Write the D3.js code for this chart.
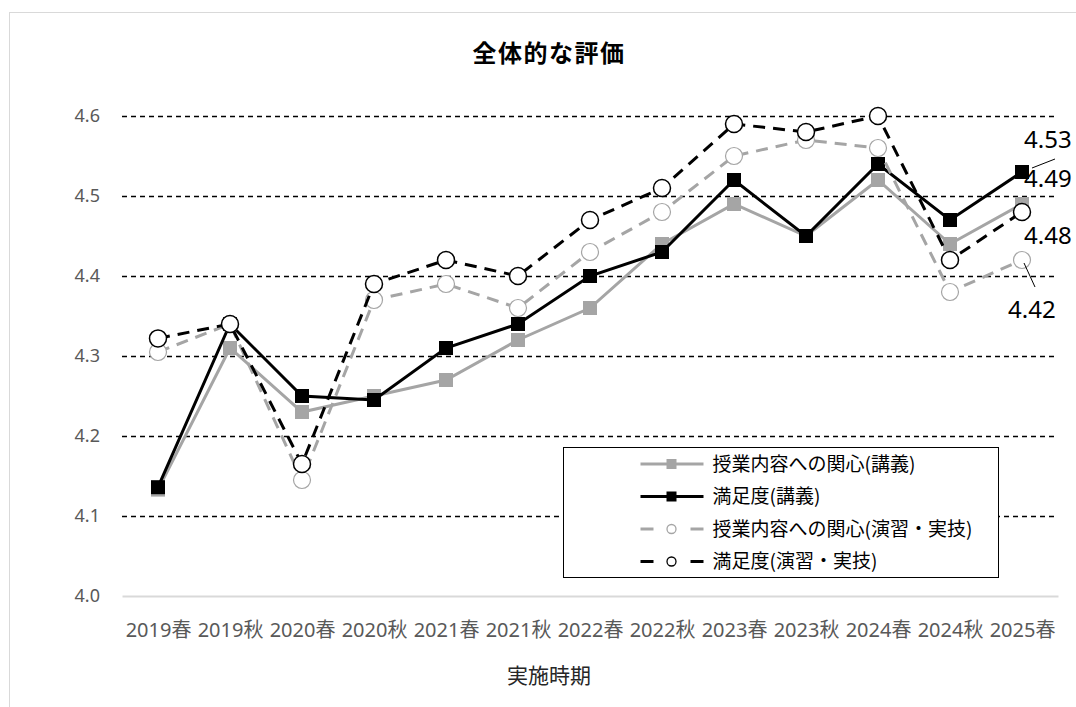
<!DOCTYPE html>
<html lang="ja">
<head>
    <meta charset="utf-8">
    <title>全体的な評価</title>
    <style>
        body {
            margin: 0;
            background: #fff;
        }

        text {
            font-family: "Noto Sans", "Noto Sans CJK JP", sans-serif;
        }
    </style>
</head>

<body>
<script src="https://cdn.jsdelivr.net/npm/d3@7"></script>

<script>

    var categories = ["2019春", "2019秋", "2020春", "2020秋", "2021春", "2021秋", "2022春",
        "2022秋", "2023春", "2023秋", "2024春", "2024秋", "2025春"];

    var interestLecture = [4.133, 4.31, 4.23, 4.25, 4.27, 4.32, 4.36, 4.44, 4.49, 4.45, 4.52, 4.44, 4.49];
    var satisfactionLecture = [4.136, 4.34, 4.25, 4.245, 4.31, 4.34, 4.40, 4.43, 4.52, 4.45, 4.54, 4.47, 4.53];
    var interestPractice = [4.305, 4.34, 4.145, 4.37, 4.39, 4.36, 4.43, 4.48, 4.55, 4.57, 4.56, 4.38, 4.42];
    var satisfactionPractice = [4.322, 4.34, 4.165, 4.39, 4.42, 4.40, 4.47, 4.51, 4.59, 4.58, 4.60, 4.42, 4.48];

    var yTicks = [4.0, 4.1, 4.2, 4.3, 4.4, 4.5, 4.6];

    var series = [
        {name: "授業内容への関心(講義)", values: interestLecture, color: "#a5a5a5", dash: null, marker: "square"},
        {name: "満足度(講義)", values: satisfactionLecture, color: "#000000", dash: null, marker: "square"},
        {name: "授業内容への関心(演習・実技)", values: interestPractice, color: "#a5a5a5", dash: "12,8", marker: "circle"},
        {name: "満足度(演習・実技)", values: satisfactionPractice, color: "#000000", dash: "12,8", marker: "circle"}
    ];

    var width = 1076,
        height = 707;

    var plot = {left: 122, right: 1058, top: 116, bottom: 596};

    var svg = d3.select("body").append("svg")
        .attr("width", width)
        .attr("height", height);

    // chart frame
    svg.append("rect")
        .attr("x", 9.5)
        .attr("y", 12.5)
        .attr("width", 1100)
        .attr("height", 720)
        .attr("fill", "#fff")
        .attr("stroke", "#d9d9d9")
        .attr("stroke-width", 1);

    var x = d3.scalePoint()
        .domain(categories)
        .range([plot.left, plot.right])
        .padding(0.5);

    var y = d3.scaleLinear()
        .domain([4.0, 4.6])
        .range([plot.bottom, plot.top]);

    // title
    svg.append("text")
        .attr("x", 549)
        .attr("y", 62)
        .attr("text-anchor", "middle")
        .style("font-size", "24px")
        .style("font-weight", "bold")
        .style("letter-spacing", "1.5px")
        .style("font-family", "'Noto Sans CJK JP', sans-serif")
        .text("全体的な評価");

    // gridlines
    svg.selectAll(".grid")
        .data(yTicks.filter(function (d) { return d > 4.0; }))
        .enter()
        .append("line")
        .attr("class", "grid")
        .attr("x1", plot.left)
        .attr("x2", plot.right)
        .attr("y1", function (d) { return Math.round(y(d)) + 0.5; })
        .attr("y2", function (d) { return Math.round(y(d)) + 0.5; })
        .attr("stroke", "#000")
        .attr("stroke-width", 1.3)
        .attr("stroke-dasharray", "5,4");

    // y axis labels
    var yAxis = d3.axisLeft(y)
        .tickValues(yTicks)
        .tickFormat(d3.format(".1f"))
        .tickSize(0)
        .tickPadding(22);
    var gy = svg.append("g")
        .attr("transform", "translate(" + plot.left + ",0)")
        .call(yAxis);
    gy.select(".domain").remove();
    gy.selectAll("text")
        .attr("fill", "#595959")
        .style("font-size", "18px")
        .style("font-family", "'Noto Sans', sans-serif");

    // x axis
    var xAxis = d3.axisBottom(x)
        .tickSize(0)
        .tickPadding(27);
    var gx = svg.append("g")
        .attr("transform", "translate(0," + plot.bottom + ")")
        .call(xAxis);
    gx.select(".domain")
        .attr("stroke", "#d9d9d9")
        .attr("stroke-width", 2);
    gx.selectAll("text")
        .attr("fill", "#595959")
        .style("font-size", "20px")
        .style("font-family", "'Noto Sans', 'Noto Sans CJK JP', sans-serif");

    svg.append("text")
        .attr("x", 549)
        .attr("y", 683)
        .attr("text-anchor", "middle")
        .attr("fill", "#262626")
        .style("font-size", "21px")
        .style("font-family", "'Noto Sans CJK JP', sans-serif")
        .text("実施時期");

    // series
    var line = d3.line()
        .x(function (d, i) { return x(categories[i]); })
        .y(function (d) { return y(d); });

    series.forEach(function (s) {
        svg.append("path")
            .attr("d", line(s.values))
            .attr("fill", "none")
            .attr("stroke", s.color)
            .attr("stroke-width", 3)
            .attr("stroke-dasharray", s.dash);

        if (s.marker === "square") {
            svg.selectAll(null)
                .data(s.values)
                .enter()
                .append("rect")
                .attr("x", function (d, i) { return x(categories[i]) - 7; })
                .attr("y", function (d) { return y(d) - 7; })
                .attr("width", 14)
                .attr("height", 14)
                .attr("fill", s.color);
        } else {
            svg.selectAll(null)
                .data(s.values)
                .enter()
                .append("circle")
                .attr("cx", function (d, i) { return x(categories[i]); })
                .attr("cy", function (d) { return y(d); })
                .attr("r", 8.5)
                .attr("fill", "#fff")
                .attr("stroke", s.color)
                .attr("stroke-width", s.color === "#000000" ? 1.5 : 1.2);
        }
    });

    // data labels for the last period
    var last = categories.length - 1;
    var lx = x(categories[last]);
    var labels = [
        {v: satisfactionLecture[last], dx: 2, dy: -24},
        {v: interestLecture[last], dx: 2, dy: -17},
        {v: satisfactionPractice[last], dx: 2, dy: 32},
        {v: interestPractice[last], dx: -14, dy: 58}
    ];
    labels.forEach(function (l) {
        svg.append("text")
            .attr("x", lx + l.dx)
            .attr("y", y(l.v) + l.dy)
            .style("font-size", "24px")
            .style("font-family", "'Noto Sans', sans-serif")
            .attr("fill", "#000")
            .text(d3.format(".2f")(l.v));
    });
    // leader lines
    svg.append("line")
        .attr("x1", lx + 10).attr("y1", y(satisfactionLecture[last]) - 4)
        .attr("x2", lx + 33).attr("y2", y(satisfactionLecture[last]) - 13)
        .attr("stroke", "#000").attr("stroke-width", 1);
    svg.append("line")
        .attr("x1", lx + 2).attr("y1", y(interestPractice[last]) + 3)
        .attr("x2", lx + 13).attr("y2", y(interestPractice[last]) + 27)
        .attr("stroke", "#000").attr("stroke-width", 1);

    // legend
    var legend = svg.append("g")
        .attr("transform", "translate(563.5,447.5)");
    legend.append("rect")
        .attr("width", 435)
        .attr("height", 130)
        .attr("fill", "#fff")
        .attr("stroke", "#000")
        .attr("stroke-width", 1);

    var items = legend.selectAll(".item")
        .data(series)
        .enter()
        .append("g")
        .attr("class", "item")
        .attr("transform", function (d, i) {
            return "translate(0," + (16.5 + i * 32.5) + ")";
        });
    items.each(function (d) {
        var g = d3.select(this);
        if (d.dash) {
            g.append("line").attr("x1", 77).attr("x2", 90).attr("y1", 0).attr("y2", 0)
                .attr("stroke", d.color).attr("stroke-width", 3);
            g.append("line").attr("x1", 127).attr("x2", 140).attr("y1", 0).attr("y2", 0)
                .attr("stroke", d.color).attr("stroke-width", 3);
            g.append("circle").attr("cx", 108).attr("cy", 0).attr("r", 4.5)
                .attr("fill", "#fff").attr("stroke", d.color).attr("stroke-width", 1.3);
        } else {
            g.append("line").attr("x1", 77).attr("x2", 140).attr("y1", 0).attr("y2", 0)
                .attr("stroke", d.color).attr("stroke-width", 3);
            g.append("rect").attr("x", 103).attr("y", -5).attr("width", 10).attr("height", 10)
                .attr("fill", d.color);
        }
        g.append("text")
            .attr("x", 149)
            .attr("y", 0)
            .attr("dy", "0.35em")
            .attr("fill", "#000")
            .style("font-size", "19px")
            .style("font-family", "'Noto Sans CJK JP', sans-serif")
            .text(d.name);
    });

</script>

</body>
</html>
